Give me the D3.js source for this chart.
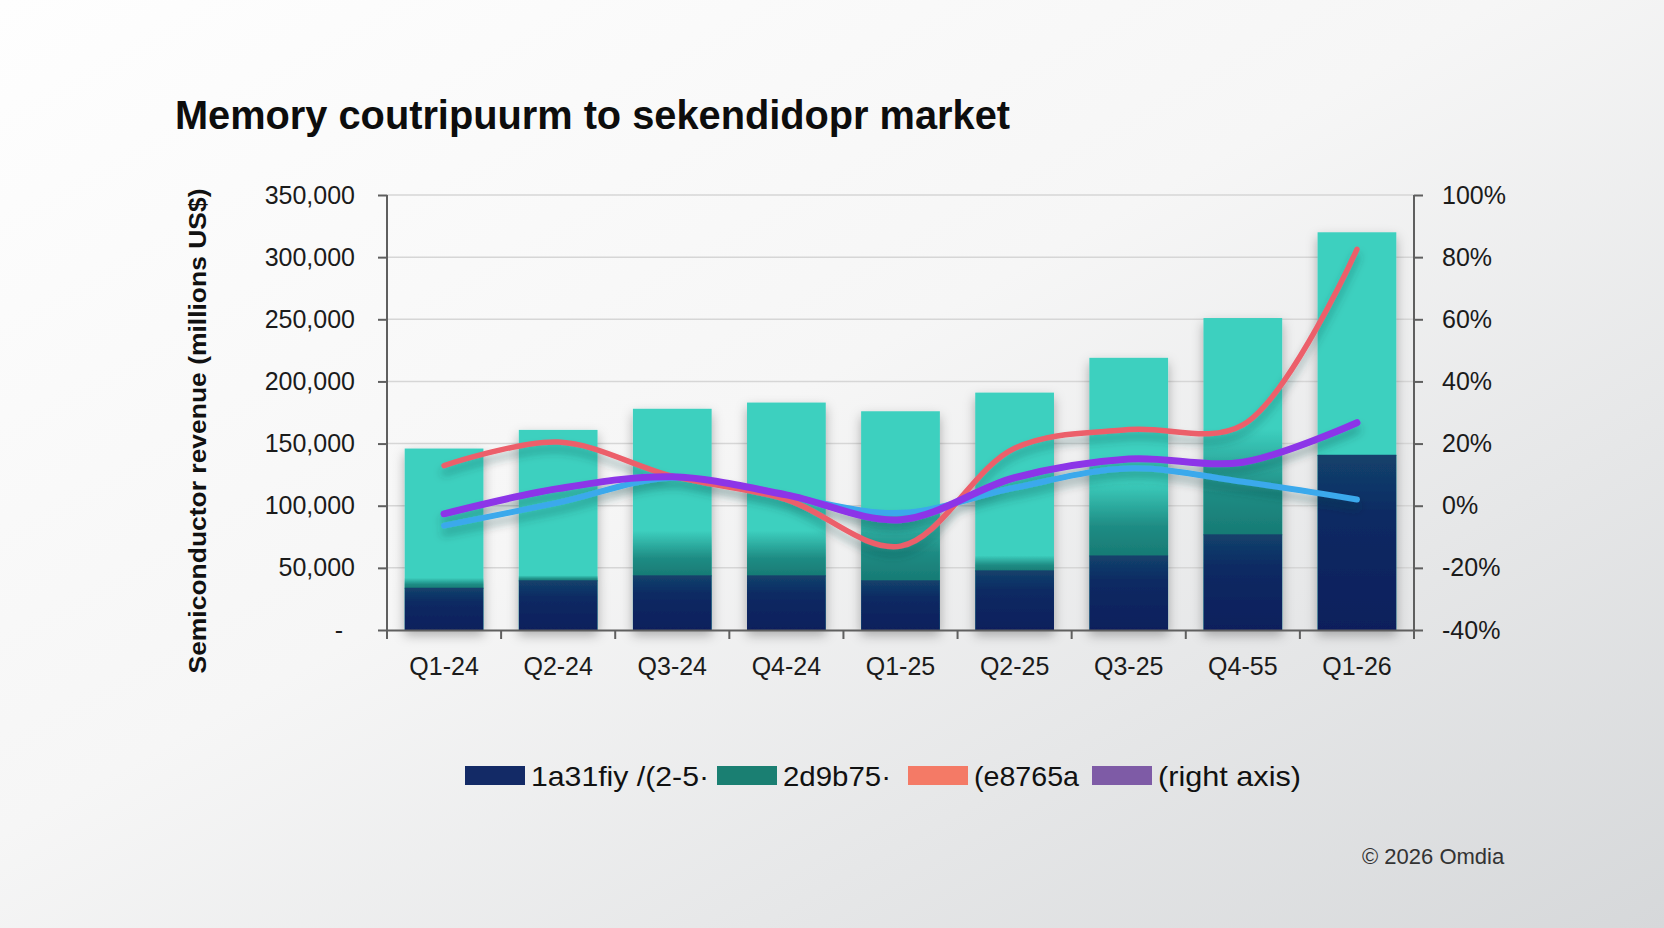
<!DOCTYPE html>
<html>
<head>
<meta charset="utf-8">
<script src="https://cdn.jsdelivr.net/npm/d3@7"></script>
<style>
  html, body { margin: 0; padding: 0; overflow: hidden; }
  text { font-family: "Liberation Sans", Arial, sans-serif; }
</style>
</head>
<body>
<script>
// chart data
const quarters = ['Q1-24', 'Q2-24', 'Q3-24', 'Q4-24', 'Q1-25', 'Q2-25', 'Q3-25', 'Q4-55', 'Q1-26']
const navyVals = [34000, 40000, 44000, 44000, 40000, 48000, 60000, 77000, 141000]
const midVals = [8000, 4000, 36000, 36000, 58000, 12000, 60000, 85000, 0]
const lightVals = [104000, 117000, 98000, 103000, 78000, 131000, 99000, 89000, 179000]
// growth lines, right axis (%)
const redLine = [12.9, 20.5, 9.5, 2.0, -13.0, 18.5, 24.5, 26.0, 82.5]
const purpleLine = [-2.6, 5.5, 9.3, 3.5, -4.5, 9.0, 15.0, 14.0, 26.7]
const blueLine = [-6.4, 1.0, 9.0, 3.0, -2.3, 5.8, 12.0, 7.7, 2.0]
const leftTicks = [0, 50000, 100000, 150000, 200000, 250000, 300000, 350000]
const rightTicks = [-40, -20, 0, 20, 40, 60, 80, 100]
const legendLabels = ['1a31fiy /(2-5\u00b7', '2d9b75\u00b7', '(e8765a', '(right axis)']

const W = 1664, H = 928
const x0 = 387, x1 = 1414, yTop = 195, yBot = 630

const svg = d3.select('body').append('svg')
    .attr('width', W).attr('height', H)

const defs = svg.append('defs')

let bg = defs.append('linearGradient').attr('id', 'bg')
    .attr('x1', 0).attr('y1', 0).attr('x2', 1).attr('y2', 1)
bg.append('stop').attr('offset', '0%').attr('stop-color', '#fefefe')
bg.append('stop').attr('offset', '45%').attr('stop-color', '#f6f6f6')
bg.append('stop').attr('offset', '100%').attr('stop-color', '#d6d8da')

let gNavy = defs.append('linearGradient').attr('id', 'gNavy')
    .attr('x1', 0).attr('y1', 0).attr('x2', 0).attr('y2', 1)
gNavy.append('stop').attr('offset', '0%').attr('stop-color', '#13426c')
gNavy.append('stop').attr('offset', '35%').attr('stop-color', '#0d2a63')
gNavy.append('stop').attr('offset', '100%').attr('stop-color', '#0b1f5c')

// middle band fades from dark teal into the light teal behind it
let gMid = defs.append('linearGradient').attr('id', 'gMid')
    .attr('x1', 0).attr('y1', 1).attr('x2', 0).attr('y2', 0)
gMid.append('stop').attr('offset', '0%').attr('stop-color', '#177a74')
gMid.append('stop').attr('offset', '40%').attr('stop-color', '#1f8c84')
gMid.append('stop').attr('offset', '100%').attr('stop-color', '#1f8c84').attr('stop-opacity', 0)

let shadow = defs.append('filter').attr('id', 'shadow')
    .attr('x', '-20%').attr('y', '-20%').attr('width', '140%').attr('height', '140%')
shadow.append('feDropShadow').attr('dx', 0).attr('dy', 5).attr('stdDeviation', 6)
    .attr('flood-color', '#000').attr('flood-opacity', 0.3)

let lshadow = defs.append('filter').attr('id', 'lshadow')
    .attr('x', '-10%').attr('y', '-30%').attr('width', '120%').attr('height', '160%')
lshadow.append('feDropShadow').attr('dx', 0).attr('dy', 7).attr('stdDeviation', 4)
    .attr('flood-color', '#0b3b3a').attr('flood-opacity', 0.35)

svg.append('rect').attr('x', 0).attr('y', 0).attr('width', W).attr('height', H)
    .attr('fill', 'url(#bg)')

// scales
const x = d3.scaleBand().domain(quarters).range([x0, x1])
    .paddingInner(0.31).paddingOuter(0.155)
const y = d3.scaleLinear().domain([0, 350000]).range([yBot, yTop])
const yp = d3.scaleLinear().domain([-40, 100]).range([yBot, yTop])

// gridlines
svg.append('g').selectAll('line').data(leftTicks.slice(1)).join('line')
    .attr('x1', x0).attr('x2', x1)
    .attr('y1', d => y(d)).attr('y2', d => y(d))
    .attr('stroke', '#d6d6d6').attr('stroke-width', 1.5)

// stacked bars
const rows = quarters.map((q, i) => ({ q: q, navy: navyVals[i], mid: midVals[i], light: lightVals[i] }))
const stack = d3.stack().keys(['navy', 'mid', 'light'])(rows)
const lightStack = stack[2]

const bars = svg.append('g').attr('filter', 'url(#shadow)')
// light teal body drawn full height, darker bands on top of it
bars.append('g').selectAll('rect').data(lightStack).join('rect')
    .attr('x', d => x(d.data.q))
    .attr('width', x.bandwidth())
    .attr('y', d => y(d[1]))
    .attr('height', d => y(0) - y(d[1]))
    .attr('fill', '#3dd0bf')
bars.append('g').selectAll('rect').data(stack[1]).join('rect')
    .attr('x', d => x(d.data.q))
    .attr('width', x.bandwidth())
    .attr('y', d => y(d[1]))
    .attr('height', d => Math.max(0, y(d[0]) - y(d[1]) + 1))
    .attr('fill', 'url(#gMid)')
bars.append('g').selectAll('rect').data(stack[0]).join('rect')
    .attr('x', d => x(d.data.q))
    .attr('width', x.bandwidth())
    .attr('y', d => y(d[1]))
    .attr('height', d => y(d[0]) - y(d[1]))
    .attr('fill', 'url(#gNavy)')

// axes
const axisColor = '#5f5f5f'
const leftAxis = svg.append('g').attr('transform', `translate(${x0},0)`)
    .call(d3.axisLeft(y).tickValues(leftTicks).tickSize(9).tickPadding(23)
        .tickFormat(d => d === 0 ? '-' : d3.format(',')(d)))
const rightAxis = svg.append('g').attr('transform', `translate(${x1},0)`)
    .call(d3.axisRight(yp).tickValues(rightTicks).tickSize(9).tickPadding(19)
        .tickFormat(d => d + '%'))
const bottomAxis = svg.append('g').attr('transform', `translate(0,${yBot})`)
    .call(d3.axisBottom(x).tickSize(0).tickPadding(27))

;[leftAxis, rightAxis, bottomAxis].forEach(a => {
    a.select('.domain').attr('stroke', axisColor).attr('stroke-width', 2)
    a.selectAll('.tick line').attr('stroke', axisColor).attr('stroke-width', 2)
    a.selectAll('text').attr('font-size', 25).attr('fill', '#1b1b1b')
        .attr('font-family', '"Liberation Sans", Arial, sans-serif')
})
leftAxis.select('.domain').attr('d', `M0,${yTop}V${yBot}`)
rightAxis.select('.domain').attr('d', `M0,${yTop}V${yBot + 9}`)
leftAxis.selectAll('.tick').filter(d => d === 0).select('text').attr('dx', -12)

// category boundary ticks
const step = x.step()
const bounds = d3.range(0, quarters.length + 1).map(i => x0 + i * step)
bottomAxis.append('g').selectAll('line').data(bounds.slice(0, -1)).join('line')
    .attr('x1', d => d).attr('x2', d => d)
    .attr('y1', 0).attr('y2', 9)
    .attr('stroke', axisColor).attr('stroke-width', 2)

// lines on right axis
const line = d3.line()
    .x((d, i) => x(quarters[i]) + x.bandwidth() / 2)
    .y(d => yp(d))
    .curve(d3.curveCatmullRom.alpha(0.5))

const lines = svg.append('g').attr('filter', 'url(#lshadow)')
const series = [
    { vals: blueLine, color: '#3aa9ec', w: 6 },
    { vals: redLine, color: '#ec5f6b', w: 5.5 },
    { vals: purpleLine, color: '#8c36e8', w: 7 }
]
series.forEach(s => {
    lines.append('path').datum(s.vals)
        .attr('d', line)
        .attr('fill', 'none')
        .attr('stroke', s.color)
        .attr('stroke-width', s.w)
        .attr('stroke-linecap', 'round')
})

// title
svg.append('text')
    .attr('x', 175).attr('y', 129)
    .attr('font-family', 'Inter, "Noto Sans", sans-serif')
    .attr('font-weight', 700)
    .attr('font-size', 40)
    .attr('fill', '#0d0d0d')
    .attr('textLength', 835).attr('lengthAdjust', 'spacingAndGlyphs')
    .text('Memory coutripuurm to sekendidopr market')

// y axis title
svg.append('text')
    .attr('transform', 'translate(206,431) rotate(-90)')
    .attr('text-anchor', 'middle')
    .attr('font-weight', 700)
    .attr('font-size', 24)
    .attr('fill', '#111')
    .attr('textLength', 485).attr('lengthAdjust', 'spacingAndGlyphs')
    .text('Semiconductor revenue (millions US$)')

// legend
const legendItems = [
    { label: legendLabels[0], color: '#132a66', sx: 465, tw: 178 },
    { label: legendLabels[1], color: '#1a7f72', sx: 717, tw: 108 },
    { label: legendLabels[2], color: '#f47a66', sx: 908, tw: 105 },
    { label: legendLabels[3], color: '#7e5ba6', sx: 1092, tw: 143 }
]
const lg = svg.append('g')
lg.selectAll('rect').data(legendItems).join('rect')
    .attr('x', d => d.sx).attr('y', 766)
    .attr('width', 60).attr('height', 19)
    .attr('fill', d => d.color)
lg.selectAll('text').data(legendItems).join('text')
    .attr('x', d => d.sx + 66).attr('y', 786)
    .attr('font-size', 28)
    .attr('fill', '#111')
    .attr('textLength', d => d.tw).attr('lengthAdjust', 'spacingAndGlyphs')
    .text(d => d.label)

// footer
svg.append('text')
    .attr('x', 1362).attr('y', 864)
    .attr('font-family', 'Inter, "Noto Sans", sans-serif')
    .attr('font-size', 22)
    .attr('fill', '#333')
    .text('\u00a9 2026 Omdia')
</script>
</body>
</html>
